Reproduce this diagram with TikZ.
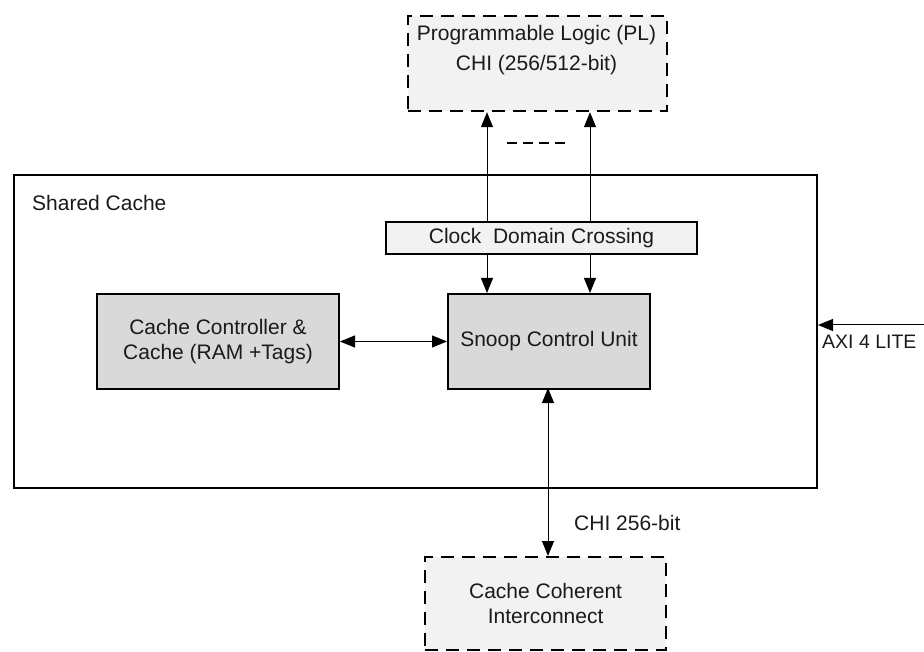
\documentclass[tikz,border=0pt]{standalone}
\usepackage{fontspec}
\setmainfont{Liberation Sans}
\usetikzlibrary{arrows.meta}
\definecolor{lightbox}{HTML}{F2F2F2}
\definecolor{darkbox}{HTML}{D9D9D9}
\definecolor{inkgray}{HTML}{1A1A1A}
\tikzset{
  every node/.style={font=\fontsize{21}{24.5}\selectfont, text=inkgray},
  blockbox/.style={draw, line width=2pt, fill=darkbox, align=center, inner sep=0pt},
  ghostbox/.style={draw, line width=2.2pt, dash pattern=on 13pt off 8pt, fill=lightbox, align=center, inner sep=0pt},
  barbox/.style={draw, line width=2pt, fill=lightbox, inner sep=0pt},
  link/.style={line width=1pt, -{Triangle[length=15pt,width=12pt]}},
  biglink/.style={line width=1pt, {Triangle[length=15pt,width=12pt]}-{Triangle[length=15pt,width=12pt]}},
}
\begin{document}
\begin{tikzpicture}[x=1pt,y=-1pt]
\useasboundingbox (0,0) rectangle (924,652);

% outer shared cache region
\node[draw, line width=2pt, minimum width=803pt, minimum height=313pt, inner sep=0pt, anchor=north west] (shared) at (13,174) {};
\node[anchor=west, inner sep=0pt] (sharedlbl) at (32,203) {Shared Cache};

% programmable logic (external, dashed)
\node[ghostbox, minimum width=259pt, minimum height=95pt, anchor=north west] (pl) at (407,15) {};
\node[align=center, inner sep=0pt] (pltext) at (536.5,50) {Programmable Logic (PL)\\[5pt]CHI (256/512-bit)};

% clock domain crossing bar
\node[barbox, minimum width=311pt, minimum height=32pt, anchor=north west] (cdc) at (385,221.5) {Clock\ \ Domain Crossing};

% snoop control unit and cache controller
\node[blockbox, minimum width=202pt, minimum height=95pt, anchor=north west] (scu) at (447,293) {Snoop Control Unit};
\node[blockbox, minimum width=242pt, minimum height=95pt, anchor=north west] (cc) at (96,293) {Cache Controller \&\\Cache (RAM +Tags)};

% cache coherent interconnect (external, dashed)
\node[ghostbox, minimum width=241pt, minimum height=93pt, anchor=north west] (cci) at (424,556) {Cache Coherent\\Interconnect};

% CDC up to PL
\coordinate (u1) at (487,221.5);
\coordinate (u2) at (590,221.5);
\draw[link] (u1) -- (u1 |- pl.south);
\draw[link] (u2) -- (u2 |- pl.south);
\coordinate (d1) at (507,143);
\coordinate (d2) at (565,143);
\draw[line width=2.2pt, dash pattern=on 10pt off 6pt] (d1) -- (d2);

% CDC down to SCU
\draw[link] (u1 |- cdc.south) -- (u1 |- scu.north);
\draw[link] (u2 |- cdc.south) -- (u2 |- scu.north);

% cache controller <-> SCU
\draw[biglink] (cc.east) -- (scu.west);

% SCU <-> interconnect
\coordinate (b1) at (548,388);
\draw[biglink] (b1) -- (b1 |- cci.north);
\node[anchor=west, inner sep=0pt] (chilbl) at (574,523) {CHI 256-bit};

% AXI 4 LITE input
\coordinate (axi) at (924,325);
\draw[link] (axi) -- (axi -| shared.east);
\node[anchor=west, inner sep=0pt, font=\fontsize{19.5}{23}\selectfont] (axilbl) at (822,342) {AXI 4 LITE};
\end{tikzpicture}
\end{document}
